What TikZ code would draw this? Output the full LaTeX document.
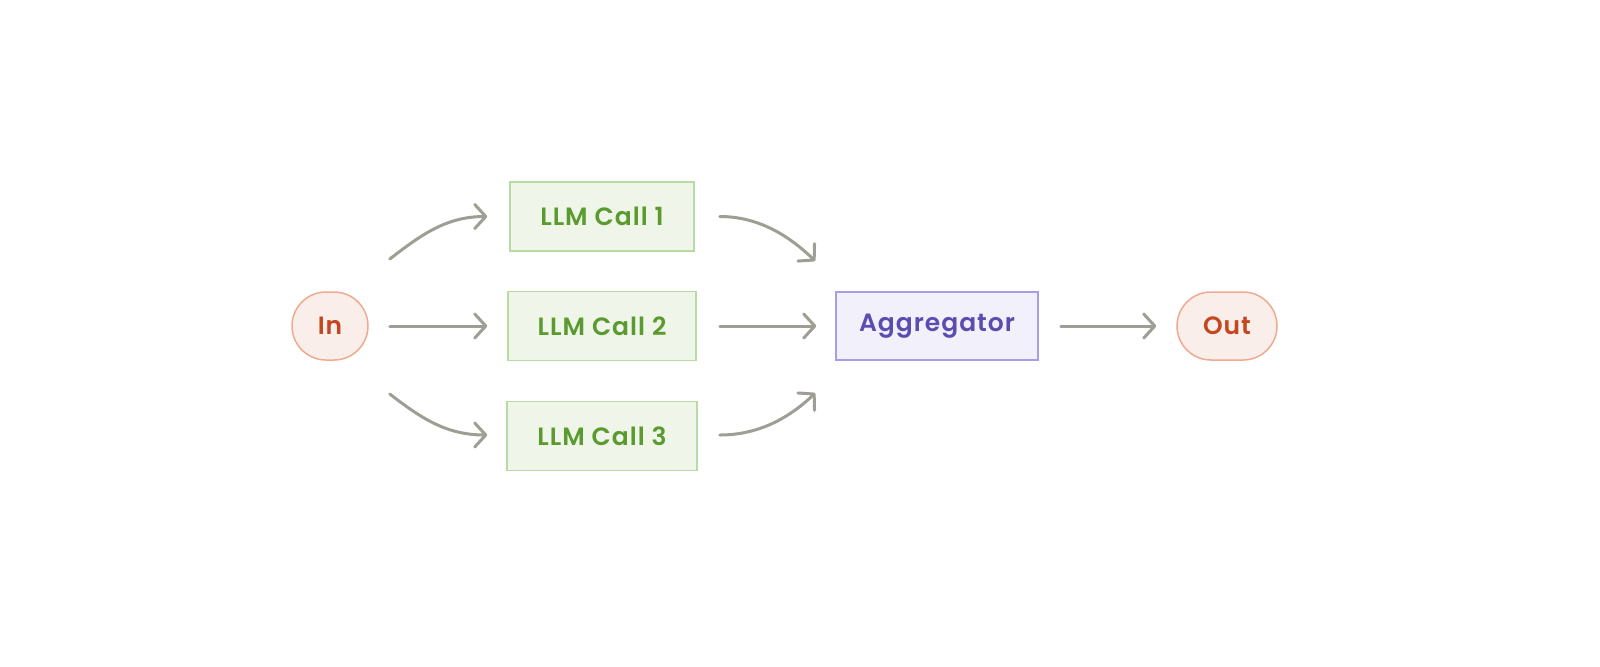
\documentclass[tikz,border=0pt]{standalone}
\usepackage{fontspec}
\setmainfont{Poppins}[BoldFont={Poppins SemiBold}, LetterSpace=4]
\usetikzlibrary{arrows.meta,calc}
\definecolor{ioFill}{HTML}{F9EEEA}
\definecolor{ioDraw}{HTML}{EFAA90}
\definecolor{ioText}{HTML}{C4471F}
\definecolor{llmFill}{HTML}{EFF5E9}
\definecolor{llmDraw}{HTML}{B7DBA2}
\definecolor{llmText}{HTML}{5A9A2E}
\definecolor{agFill}{HTML}{F2F0FB}
\definecolor{agDraw}{HTML}{AA9DE8}
\definecolor{agText}{HTML}{5B4DB0}
\definecolor{arrGray}{HTML}{9E9E94}
\begin{document}
\begin{tikzpicture}[x=0.5pt,y=-0.5pt,
  lbl/.style={font=\fontsize{12.5}{15}\selectfont\bfseries, inner sep=0pt},
  io/.style={lbl, draw=ioDraw, fill=ioFill, text=ioText, line width=0.75pt, rounded corners=17pt, minimum height=34pt},
  llm/.style={lbl, draw=llmDraw, fill=llmFill, text=llmText, line width=0.75pt, minimum height=34.5pt},
  agg/.style={lbl, draw=agDraw, fill=agFill, text=agText, line width=0.75pt, minimum height=34pt},
  arr/.style={draw=arrGray, line width=1.5pt, line cap=round, -{Straight Barb[length=5.5pt,width=12pt,line cap=round,line join=round]}}
]
\useasboundingbox (0,0) rectangle (1600,666);
\fill[white] (0,0) rectangle (1600,666);

\node[io, minimum width=38pt] (in) at (330,326) {In};
\node[llm, minimum width=92pt] (c1) at (602,216.5) {LLM Call 1};
\node[llm, minimum width=94pt] (c2) at (602,326) {LLM Call 2};
\node[llm, minimum width=95pt] (c3) at (602,436) {LLM Call 3};
\node[agg, minimum width=101pt] (ag) at (937,326) {Aggregator};
\node[io, minimum width=50pt] (out) at (1227,326) {Out};

% free ends of the connectors
\coordinate (s1) at ($(in.east)+(21,-67)$);
\coordinate (s2) at ($(in.east)+(21,0)$);
\coordinate (s3) at ($(in.east)+(21,68)$);
\coordinate (e1) at ($(c1.west)+(-22,0)$);
\coordinate (e2) at ($(c2.west)+(-20,0)$);
\coordinate (e3) at ($(c3.west)+(-19,-1)$);
\coordinate (t1) at ($(c1.east)+(25,0)$);
\coordinate (t2) at ($(c2.east)+(23,0)$);
\coordinate (t3) at ($(c3.east)+(22,-1)$);
\coordinate (a1) at ($(ag.west)+(-20,-65)$);
\coordinate (a2) at ($(ag.west)+(-19,0)$);
\coordinate (a3) at ($(ag.west)+(-20,67)$);
\coordinate (o1) at ($(ag.east)+(22,0)$);
\coordinate (o2) at ($(out.west)+(-20,0)$);

\draw[arr] (s1) .. controls ($(s1)+(30,-23)$) and ($(e1)+(-42,0)$) .. (e1);
\draw[arr] (s2) -- (e2);
\draw[arr] (s3) .. controls ($(s3)+(30,23)$) and ($(e3)+(-42,0)$) .. (e3);
\draw[arr] (t1) .. controls ($(t1)+(42,0)$) and ($(a1)+(-23,-22)$) .. (a1);
\draw[arr] (t2) -- (a2);
\draw[arr] (t3) .. controls ($(t3)+(42,0)$) and ($(a3)+(-23,22)$) .. (a3);
\draw[arr] (o1) -- (o2);
\end{tikzpicture}
\end{document}
